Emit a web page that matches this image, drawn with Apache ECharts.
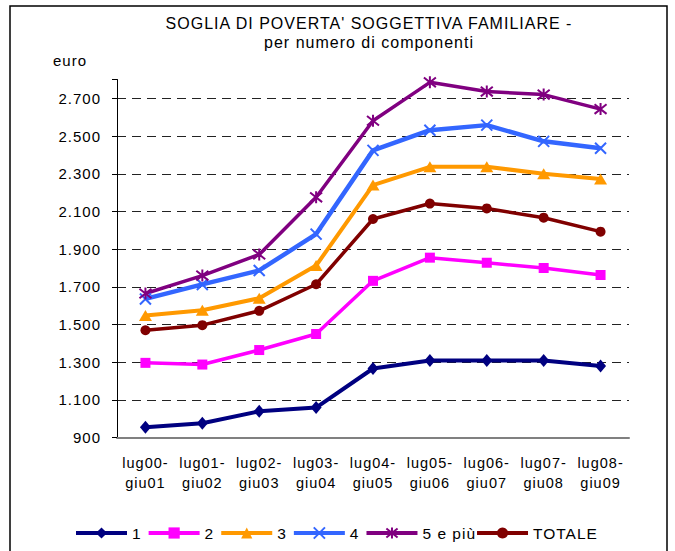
<!DOCTYPE html>
<html>
<head>
<meta charset="utf-8">
<script src="https://cdn.jsdelivr.net/npm/echarts@6.0.0/dist/echarts.min.js"></script>
<style>
html, body { margin: 0; padding: 0; background: #fff; }
#chart { width: 675px; height: 551px; }
/* testo un po' spaziato come nel grafico originale */
#chart text { letter-spacing: 1px; }
</style>
</head>
<body>
<div id="chart"></div>
<script>
var periodi = ['lug00-\ngiu01', 'lug01-\ngiu02', 'lug02-\ngiu03', 'lug03-\ngiu04', 'lug04-\ngiu05',
    'lug05-\ngiu06', 'lug06-\ngiu07', 'lug07-\ngiu08', 'lug08-\ngiu09'];

var nomiSerie = ['1', '2', '3', '4', '5 e più', 'TOTALE'];

var comp1 = [955, 977, 1040, 1060, 1267, 1310, 1310, 1310, 1280];
var comp2 = [1297, 1288, 1365, 1450, 1732, 1855, 1828, 1800, 1763];
var comp3 = [1548, 1576, 1640, 1813, 2240, 2337, 2337, 2300, 2272];
var comp4 = [1636, 1713, 1787, 1980, 2424, 2531, 2558, 2472, 2435];
var comp5 = [1665, 1760, 1872, 2175, 2581, 2785, 2736, 2720, 2643];
var totale = [1470, 1497, 1573, 1714, 2060, 2142, 2116, 2067, 1993];

var yMin = 900;
var yMax = 2800;
var yPasso = 200;

var FONT = 'Liberation Sans, Arial, sans-serif';

function formatEuro(v) {
    if (v > 2700) {
        return '';
    }
    return String(v).replace(/\B(?=(\d{3})+(?!\d))/g, '.');
}

function makeSerie(name, data, color, symbol, size, width, stroked) {
    var item = {color: color};
    if (stroked) {
        item.borderColor = color;
        item.borderWidth = 2;
    } else {
        item.borderWidth = 0;
    }
    return {
        name: name,
        type: 'line',
        data: data,
        symbol: symbol,
        symbolSize: size,
        showAllSymbol: true,
        lineStyle: {color: color, width: width},
        itemStyle: item,
        emphasis: {disabled: true}
    };
}

function createChart(id) {
    var chart = echarts.init(document.getElementById(id), null, {renderer: 'svg'});
    var option = {
        animation: false,
        textStyle: {fontFamily: FONT},
        title: [{
            text: "SOGLIA DI POVERTA' SOGGETTIVA FAMILIARE -\nper numero di componenti",
            left: 369,
            top: 13.5,
            padding: 0,
            textAlign: 'center',
            textStyle: {fontFamily: FONT, fontSize: 16, fontWeight: 'normal', color: '#000', lineHeight: 19}
        }, {
            text: 'euro',
            left: 53,
            top: 53,
            padding: 0,
            textStyle: {fontFamily: FONT, fontSize: 15, fontWeight: 'normal', color: '#000'}
        }],
        legend: {
            data: nomiSerie,
            left: 74,
            top: 525,
            padding: 0,
            itemWidth: 51,
            itemHeight: 14,
            itemGap: 6,
            lineStyle: {width: 4},
            textStyle: {fontFamily: FONT, fontSize: 15.5, color: '#000'}
        },
        grid: {left: 117, right: 46, top: 79.5, bottom: 113.3, containLabel: false},
        xAxis: {
            type: 'category',
            data: periodi,
            boundaryGap: true,
            axisLine: {lineStyle: {color: '#808080', width: 2}},
            axisTick: {show: false},
            axisLabel: {fontFamily: FONT, fontSize: 14.5, color: '#000', lineHeight: 20, margin: 15, interval: 0}
        },
        yAxis: {
            type: 'value',
            min: yMin,
            max: yMax,
            interval: yPasso,
            axisLine: {show: true, lineStyle: {color: '#000', width: 1}},
            axisTick: {show: true, length: 5, lineStyle: {color: '#000'}},
            axisLabel: {fontFamily: FONT, fontSize: 15, color: '#000', margin: 16, formatter: formatEuro},
            splitLine: {
                show: true,
                showMinLine: false,
                showMaxLine: false,
                lineStyle: {color: '#222', width: 1, type: [9, 6]}
            }
        },
        series: [
            makeSerie('1', comp1, '#000080', 'diamond', [11, 13], 4, false),
            makeSerie('2', comp2, '#ff00ff', 'rect', 10, 3.5, false),
            makeSerie('3', comp3, '#ff9900', 'triangle', [13, 11], 4, false),
            makeSerie('4', comp4, '#3366ff', 'path://M0,0L10,10M10,0L0,10', 11, 4.5, true),
            makeSerie('5 e più', comp5, '#800080', 'path://M1,1L9,9M9,1L1,9M5,0L5,10', 12, 3.5, true),
            makeSerie('TOTALE', totale, '#800000', 'circle', 10, 3.5, false)
        ],
        graphic: [{
            type: 'rect',
            shape: {x: 10, y: 6, width: 657, height: 600},
            style: {fill: null, stroke: '#000', lineWidth: 1.5},
            silent: true,
            z: -1
        }]
    };
    chart.setOption(option);
    return chart;
}

createChart('chart');
</script>
</body>
</html>
